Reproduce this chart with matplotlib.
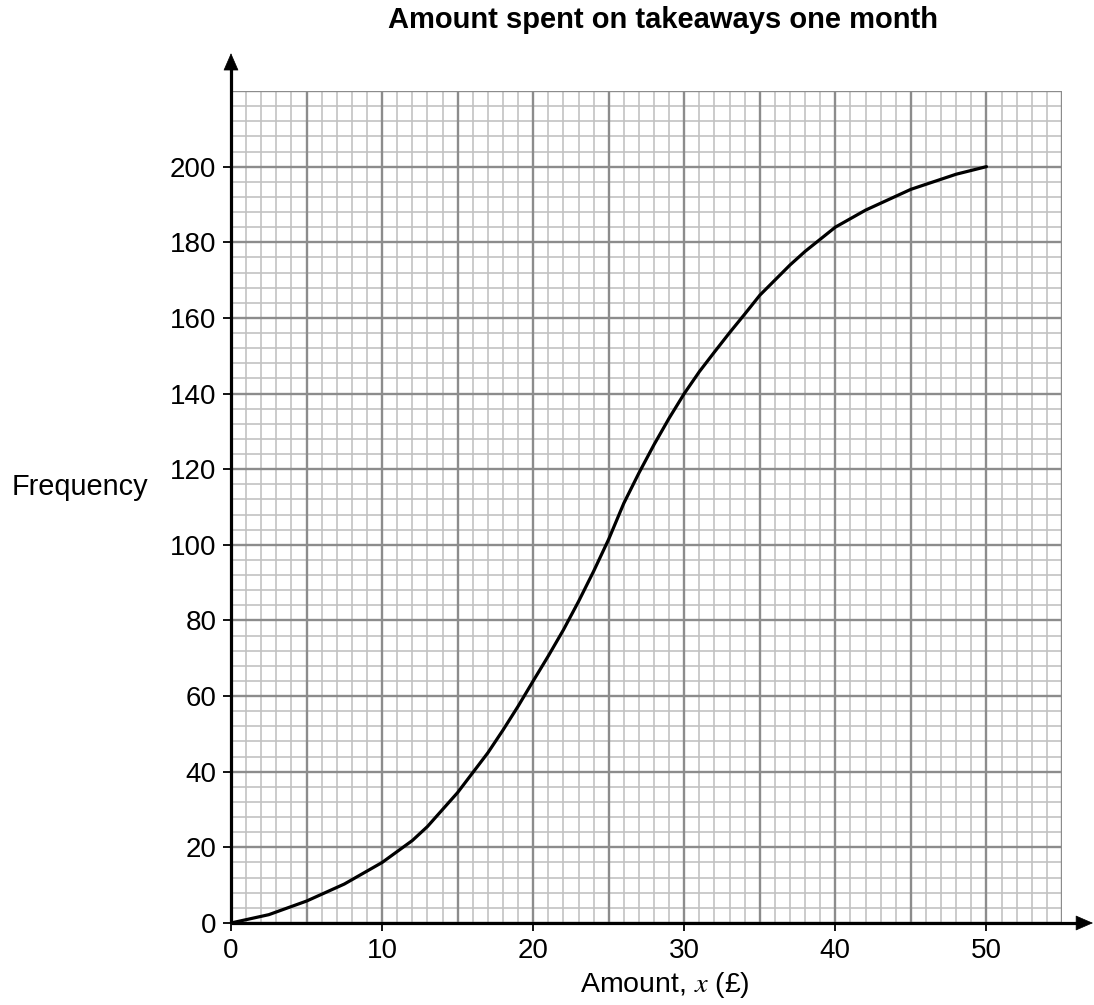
import matplotlib.pyplot as plt

plt.rcParams['font.family'] = ['Liberation Sans', 'DejaVu Sans']
plt.rcParams['mathtext.fontset'] = 'stix'

# cumulative frequency curve
amount = [0, 2.5, 5, 7.5, 10, 12, 13, 15, 17, 18, 19, 20, 21, 22, 23, 24, 25,
          26, 27, 28, 29, 30, 31, 32, 33, 34, 35, 37, 38, 40, 42, 45, 48, 50]
freq = [0, 2.2, 5.8, 10.3, 16, 21.8, 25.5, 34.5, 45, 51, 57.3, 64, 70.6, 77.5,
        85, 93, 101.5, 111, 119, 126.5, 133.5, 140, 145.8, 151, 156.1, 161,
        166, 174, 177.6, 184, 188.5, 194, 198, 200]

x_ticks = [0, 10, 20, 30, 40, 50]
y_ticks = [0, 20, 40, 60, 80, 100, 120, 140, 160, 180, 200]

fig = plt.figure(figsize=(10.94, 10.05), dpi=100)
ax = fig.add_axes([231 / 1094, 1 - 923 / 1005, 831 / 1094, 832 / 1005])

ax.set_xlim(0, 55)
ax.set_ylim(0, 220)

# graph paper
for v in range(0, 56):
    major = v % 5 == 0
    ax.axvline(v, color='#8c8c8c' if major else '#c2c2c2',
               lw=1.7 if major else 1.2, zorder=1 if major else 0.5)
for v in range(0, 221, 4):
    major = v % 20 == 0
    ax.axhline(v, color='#8c8c8c' if major else '#c2c2c2',
               lw=1.7 if major else 1.2, zorder=1 if major else 0.5)

ax.plot(amount, freq, color='black', lw=2.3, zorder=3,
        solid_capstyle='round', solid_joinstyle='round')

# axes with arrows
ax.spines[:].set_visible(False)
ax.plot([0, 56.5], [0, 0], color='black', lw=2.3, clip_on=False, zorder=4,
        solid_capstyle='butt')
ax.plot([0, 0], [0, 227], color='black', lw=2.3, clip_on=False, zorder=4,
        solid_capstyle='butt')
head = dict(arrowstyle='-|>,head_length=1.15,head_width=0.5', color='black',
            lw=0.5, shrinkA=0, shrinkB=0)
ax.annotate('', xy=(57.05, 0), xytext=(56, 0), annotation_clip=False,
            arrowprops=head)
ax.annotate('', xy=(0, 230), xytext=(0, 226), annotation_clip=False,
            arrowprops=head)

ax.set_xticks(x_ticks)
ax.set_yticks(y_ticks)
ax.tick_params(which='major', length=5.5, width=1.3, labelsize=20, pad=5)

fig.text(663 / 1094, 1 - 20 / 1005, 'Amount spent on takeaways one month',
         ha='center', va='center', fontsize=21, fontweight='bold')
fig.text(12 / 1094, 1 - 487 / 1005, 'Frequency', ha='left', va='center',
         fontsize=20.8)
fig.text(665 / 1094, 1 - 985 / 1005, r'Amount, $x$ (£)',
         ha='center', va='center', fontsize=20.5)

fig.savefig('out.png', dpi=100)
